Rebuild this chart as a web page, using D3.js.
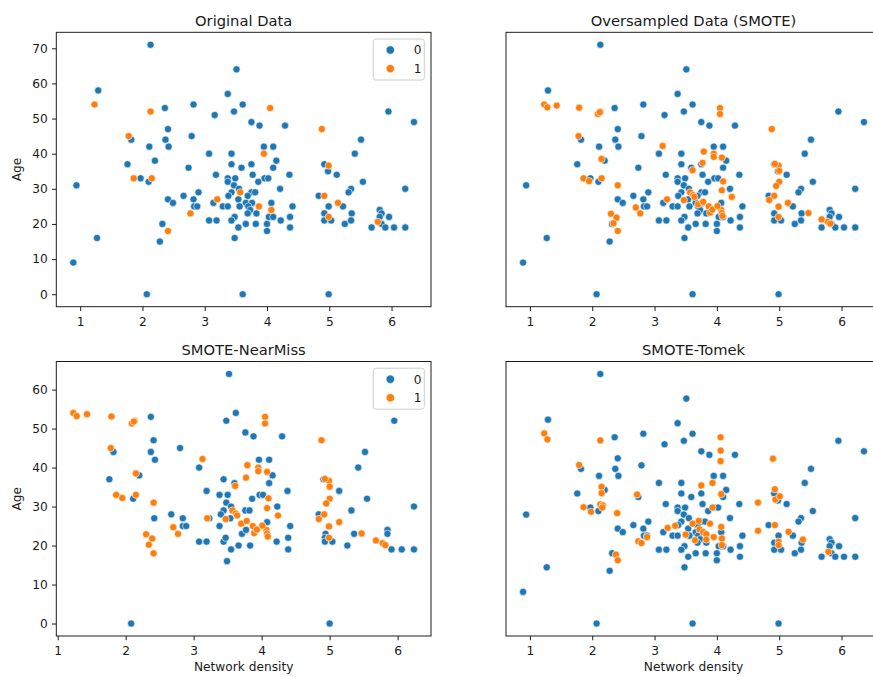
<!DOCTYPE html>
<html>
<head>
<meta charset="utf-8">
<script src="https://cdn.jsdelivr.net/npm/d3@7"></script>
<style>
  body { margin: 0; background: #fff; }
  text { font-family: "DejaVu Sans", sans-serif; fill: #1a1a1a; }
</style>
</head>
<body>
<svg id="fig" width="873" height="677"></svg>
<script>
// Class labels and their colours
const categories = ["0", "1"];
const colors = ["#1f77b4", "#ff7f0e"];

// Tick labels
const xTicks = [1, 2, 3, 4, 5, 6];
const yTicksTop = [0, 10, 20, 30, 40, 50, 60, 70];
const yTicksBottom = [0, 10, 20, 30, 40, 50, 60];

// Original data, class 0: [network density, age]
const origBlue = [
  [2.13,71],[1.29,58],[2.36,53],[2.82,54],[3.16,51],[2.41,47],[2.79,45],[1.82,44],[2.37,44],[2.11,42],
  [2.42,42],[2.20,38],[1.76,37],[1.97,33],[2.10,32],[0.94,31],[2.74,36],[3.07,40],[3.18,34],[0.89,9],
  [1.27,16],[2.07,0],[2.28,15],[2.32,20],[2.41,27],[2.49,26],[2.66,28],[2.82,27],[2.83,25],[2.88,25],
  [2.90,29],[3.14,26],[3.07,21],[3.19,21],[3.37,57],
  [3.47,52],[3.75,49],[3.88,48],[4.29,48],[3.95,42],[4.10,42],[3.43,40],[4.15,38],[3.43,37],[3.75,37],
  [3.59,36],[4.10,36],[3.77,34],[4.36,34],[3.37,33],[3.49,33],[3.37,32],[3.96,33],[4.02,33],[3.86,32],
  [3.47,31],[3.55,30],[4.21,30],[3.43,29],[3.75,29],[3.81,29],[3.38,28],[3.69,28],[3.54,27],[3.66,26],
  [3.76,26],[4.07,26],[3.29,25],[3.37,25],[3.56,25],[3.70,25],[4.41,25],[3.73,24],[3.69,23],[3.83,23],
  [4.03,22],[4.10,22],[3.48,22],[3.43,21],[4.22,21],[4.37,22],[3.66,20],[3.82,20],[4.00,20],[3.54,19],
  [4.00,18],[4.37,19],[3.48,16],
  [3.51,64],[3.61,54],[5.95,52],[6.36,49],[5.51,44],[5.41,40],[4.92,37],[4.98,35],[5.12,34],[5.54,32],
  [6.22,30],[5.35,30],[5.31,29],[4.83,28],[4.99,25],[5.22,25],[5.36,23],[4.92,23],[5.81,24],[5.84,23],
  [5.96,22],[5.81,22],[4.92,21],[5.03,21],[5.25,20],[5.35,21],[5.68,19],[5.84,20],[5.90,19],[6.04,19],
  [6.22,19],[3.61,0],[4.99,0]
];

// Original data, class 1
const origOrange = [
  [1.23,54],[2.13,52],[1.78,45],[1.86,33],[2.15,33],[2.41,18],[2.77,23],[3.20,27],[3.57,29],[4.05,53],
  [3.95,40],[3.87,25],[4.07,24],[4.88,47],[4.99,36.6],[4.92,28],[5.14,26],[4.99,22],[5.78,20.6]
];

// Synthetic class-1 samples added by SMOTE
const smoteSynth = [
  [1.28,53.2],[1.43,53.7],[1.79,53.1],[2.09,51.3],[2.12,51.8],[3.13,42.2],[2.15,38.5],[1.95,32.2],
  [2.41,31.0],[2.70,24.7],[2.30,22.9],[2.39,21.8],[2.34,20.2],[4.05,51.3],[3.79,40.6],[3.95,39.1],
  [4.08,38.9],[3.77,37.4],[3.61,35.3],[4.93,37.1],[5.00,35.1],[5.00,32.0],[4.95,30.8],[4.84,26.8],
  [4.99,24.9],[4.10,32.1],[4.08,29.6],[4.24,27.7],[5.47,23.1],[5.68,21.3],[3.47,26.8],[3.62,28.2],
  [3.64,27.7],[3.70,25.6],[3.78,26.3],[3.89,23.2],[3.93,24.1],[4.01,25.1],[4.08,23.1],[4.09,22.3],
  [5.82,20.1]
];

// Class 0 kept by NearMiss
const nearMissBlue = [
  [3.52,64],[2.37,53],[3.48,52],[3.62,54],[3.76,49],[3.88,48],[4.30,48],[2.41,47],[2.80,45],[1.82,44],
  [2.37,44],[2.43,42],[1.76,37],[2.20,38],[2.11,32],[3.08,40],[3.44,37],[3.60,36],[3.19,34],[3.38,33],
  [3.50,33],[3.48,31],[3.55,30],[3.44,29],[3.76,29],[3.82,29],[2.42,27],[2.67,28],[2.84,27],[2.84,25],
  [2.89,25],[3.23,27],[3.38,25],[3.40,28],[3.54,27],[3.08,21],[3.19,21],[3.44,21],[3.47,22],[3.55,19],
  [3.66,20],[3.83,20],[3.71,23],[3.77,24],[3.49,16],[2.08,0],[3.96,42],[4.11,42],[4.16,38],[4.11,36],
  [4.38,34],[3.97,33],[4.02,33],[3.86,32],[4.42,25],[4.08,26],[4.22,21],[4.39,22],[4.39,19],[5.95,52],
  [5.52,44],[5.42,40],[4.91,37],[5.14,34],[5.55,32],[6.24,30],[5.32,29],[4.23,30],[4.84,28],[4.94,23],
  [4.93,22],[4.93,21],[5.04,21],[5.00,0],[5.26,20],[5.36,23],[5.85,24],[5.85,23],[5.91,19],[6.06,19],
  [6.24,19]
];

// Class 1 after SMOTE + Tomek links cleaning
const tomekOrange = [
  [1.23,54.1],[1.28,52.4],[2.13,52.1],[1.79,45.1],[2.15,38.9],[2.15,37.1],[1.86,33.1],[1.98,31.8],
  [2.13,33.9],[2.17,33.6],[2.16,33.0],[2.40,31.4],[2.72,36.7],[2.74,23.4],[2.79,22.9],[2.88,24.6],
  [2.38,19.6],[2.41,18.0],[3.21,27.2],[3.33,27.8],[4.06,53.0],[4.06,49.2],[4.06,46.2],[4.90,46.9],
  [3.75,39.3],[3.93,40.0],[4.07,36.8],[4.93,38.2],[4.94,35.3],[5.01,36.2],[3.93,33.0],[4.66,34.4],
  [4.66,26.4],[4.93,28.0],[5.15,26.1],[4.99,23.3],[4.99,22.3],[5.38,23.9],[5.79,20.4],[3.50,25.3],
  [3.61,28.4],[3.71,29.2],[3.65,23.7],[3.72,26.8],[3.78,26.0],[3.83,25.4],[3.83,23.9],[3.89,28.4],
  [3.95,24.6],[4.07,27.5],[4.08,24.2],[4.08,22.3]
];

const smoteOrange = origOrange.concat(smoteSynth);

const panels = [
  { title: "Original Data", groups: [origBlue, origOrange],
    l: 56.3, r: 431, t: 32.3, b: 306.7, yTicks: yTicksTop, yLabels: true, legend: true, xTitle: false },
  { title: "Oversampled Data (SMOTE)", groups: [origBlue, smoteOrange],
    l: 506, r: 881, t: 32.3, b: 306.7, yTicks: yTicksTop, yLabels: false, legend: false, xTitle: false },
  { title: "SMOTE-NearMiss", groups: [nearMissBlue, smoteOrange],
    l: 56.3, r: 431, t: 361.5, b: 636, yTicks: yTicksBottom, yLabels: true, legend: true, xTitle: true },
  { title: "SMOTE-Tomek", groups: [origBlue, tomekOrange],
    l: 506, r: 881, t: 361.5, b: 636, yTicks: yTicksTop, yLabels: false, legend: false, xTitle: true }
];

const svg = d3.select("#fig");
const FS = 12.2;      // tick / axis label size
const TS = 14.7;      // title size
const LW = 0.98;      // spine and tick width

function padded(vals) {
  const [lo, hi] = d3.extent(vals);
  const m = (hi - lo) * 0.05;
  return [lo - m, hi + m];
}

panels.forEach((p, i) => {
  const all = p.groups.flat();
  const x = d3.scaleLinear().domain(padded(all.map(d => d[0]))).range([p.l, p.r]);
  const y = d3.scaleLinear().domain(padded(all.map(d => d[1]))).range([p.b, p.t]);

  const g = svg.append("g");
  const clipId = "clip" + i;
  g.append("clipPath").attr("id", clipId)
    .append("rect").attr("x", p.l).attr("y", p.t).attr("width", p.r - p.l).attr("height", p.b - p.t);

  // points
  const pts = g.append("g").attr("clip-path", `url(#${clipId})`);
  p.groups.forEach((grp, k) => {
    pts.selectAll(null).data(grp).join("circle")
      .attr("cx", d => x(d[0])).attr("cy", d => y(d[1])).attr("r", 3.6)
      .attr("fill", colors[k]).attr("stroke", "#fff").attr("stroke-width", 0.6);
  });

  // x axis
  const xa = g.append("g").attr("transform", `translate(0,${p.b})`)
    .call(d3.axisBottom(x).tickValues(xTicks).tickFormat(d3.format("d")).tickSize(4.3).tickPadding(4.3));
  xa.select(".domain").remove();
  xa.selectAll(".tick line").attr("stroke", "#1a1a1a").attr("stroke-width", LW);
  xa.selectAll(".tick text").attr("font-size", FS).attr("font-family", "DejaVu Sans")
    .attr("fill", "#1a1a1a").attr("y", 19.3).attr("dy", null);

  // y axis
  const ya = g.append("g").attr("transform", `translate(${p.l},0)`)
    .call(d3.axisLeft(y).tickValues(p.yTicks).tickFormat(d3.format("d")).tickSize(4.3).tickPadding(4.3));
  ya.select(".domain").remove();
  ya.selectAll(".tick line").attr("stroke", "#1a1a1a").attr("stroke-width", LW);
  ya.selectAll(".tick text").attr("font-size", FS).attr("font-family", "DejaVu Sans").attr("fill", "#1a1a1a");
  if (!p.yLabels) ya.remove();

  // frame
  g.append("rect").attr("x", p.l).attr("y", p.t).attr("width", p.r - p.l).attr("height", p.b - p.t)
    .attr("fill", "none").attr("stroke", "#1a1a1a").attr("stroke-width", LW);

  // title
  g.append("text").attr("x", (p.l + p.r) / 2).attr("y", p.t - 6.5)
    .attr("text-anchor", "middle").attr("font-size", TS).text(p.title);

  if (p.yLabels) {
    const cy = (p.t + p.b) / 2;
    g.append("text").attr("transform", `translate(21,${cy}) rotate(-90)`)
      .attr("text-anchor", "middle").attr("font-size", FS).text("Age");
  }
  if (p.xTitle) {
    g.append("text").attr("x", (p.l + p.r) / 2).attr("y", 671)
      .attr("text-anchor", "middle").attr("font-size", FS).text("Network density");
  }

  if (p.legend) {
    const lx = p.r - 57.7, ly = p.t + 6.7;
    const lg = g.append("g");
    lg.append("rect").attr("x", lx).attr("y", ly).attr("width", 51).attr("height", 41)
      .attr("rx", 2.5).attr("fill", "#fff").attr("fill-opacity", 0.8)
      .attr("stroke", "#cccccc").attr("stroke-width", LW);
    categories.forEach((c, k) => {
      const yy = ly + 11 + k * 18.6;
      lg.append("circle").attr("cx", lx + 17).attr("cy", yy).attr("r", 4.2)
        .attr("fill", colors[k]).attr("stroke", "#fff").attr("stroke-width", 0.6);
      lg.append("text").attr("x", lx + 40.5).attr("y", yy).attr("dy", "0.36em")
        .attr("font-size", FS).text(c);
    });
  }
});
</script>
</body>
</html>
